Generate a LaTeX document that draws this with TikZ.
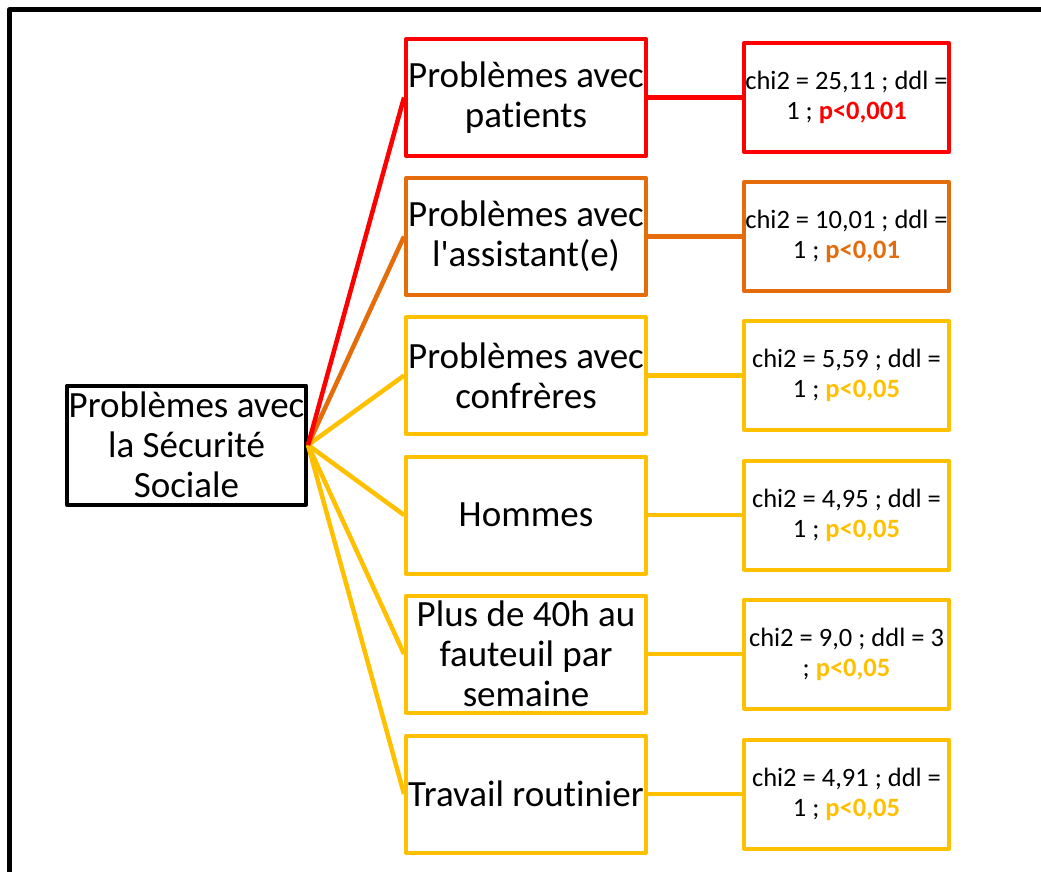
\documentclass[tikz,border=0pt]{standalone}
\usepackage{fontspec}
\setmainfont[Ligatures=NoCommon]{Carlito}
\definecolor{cred}{HTML}{FF0000}
\definecolor{corange}{HTML}{E46C0A}
\definecolor{cyellow}{HTML}{FFC000}
\begin{document}
\begin{tikzpicture}[x=1pt,y=-1pt,line join=round,
  midbox/.style={draw=#1,line width=4pt,fill=white,minimum width=240pt,minimum height=117pt,inner sep=0pt,align=center,font=\fontsize{37}{40}\selectfont},
  rootbox/.style={draw=black,line width=4pt,fill=white,minimum width=239pt,minimum height=119pt,inner sep=0pt,align=center,font=\fontsize{37}{40}\selectfont},
  statbox/.style={draw=#1,line width=4pt,fill=white,minimum width=205pt,minimum height=109pt,inner sep=0pt,align=center,font=\fontsize{26.5}{30}\selectfont},
  conn/.style={draw=#1,line width=4.5pt}]
\useasboundingbox (0,0) rectangle (1041,872);
\clip (0,0) rectangle (1041,872);
\draw[line width=5pt] (9.7,900) -- (9.7,9.7) -- (1060,9.7);
\node[rootbox] (root) at (186.5,445) {Problèmes avec\\la Sécurité\\Sociale};
\node[midbox=cred] (m1) at (526,97.5) {Problèmes avec\\patients};
\node[midbox=corange] (m2) at (526,236.5) {Problèmes avec\\l\textquotesingle assistant(e)};
\node[midbox=cyellow] (m3) at (526,375.5) {Problèmes avec\\confrères};
\node[midbox=cyellow] (m4) at (526,515) {Hommes};
\node[midbox=cyellow] (m5) at (526,654) {Plus de 40h au\\fauteuil par\\semaine};
\node[midbox=cyellow] (m6) at (526,794) {Travail routinier};
\node[statbox=cred] (r1) at (846.5,97.5) {chi2 = 25,11 ; ddl =\\1 ; \textcolor{cred}{\bfseries p<0,001}};
\node[statbox=corange] (r2) at (846.5,236.5) {chi2 = 10,01 ; ddl =\\1 ; \textcolor{corange}{\bfseries p<0,01}};
\node[statbox=cyellow] (r3) at (846.5,375.5) {chi2 = 5,59 ; ddl =\\1 ; \textcolor{cyellow}{\bfseries p<0,05}};
\node[statbox=cyellow] (r4) at (846.5,515) {chi2 = 4,95 ; ddl =\\1 ; \textcolor{cyellow}{\bfseries p<0,05}};
\node[statbox=cyellow] (r5) at (846.5,654) {chi2 = 9,0 ; ddl = 3\\; \textcolor{cyellow}{\bfseries p<0,05}};
\node[statbox=cyellow] (r6) at (846.5,794) {chi2 = 4,91 ; ddl =\\1 ; \textcolor{cyellow}{\bfseries p<0,05}};
\path[conn=cyellow] (root.east) -- (m6.west);
\path[conn=cyellow] (root.east) -- (m5.west);
\path[conn=cyellow] (root.east) -- (m4.west);
\path[conn=cyellow] (root.east) -- (m3.west);
\path[conn=corange] (root.east) -- (m2.west);
\path[conn=cred] (root.east) -- (m1.west);
\path[conn=cred] (m1.east) -- (r1.west);
\path[conn=corange] (m2.east) -- (r2.west);
\path[conn=cyellow] (m3.east) -- (r3.west);
\path[conn=cyellow] (m4.east) -- (r4.west);
\path[conn=cyellow] (m5.east) -- (r5.west);
\path[conn=cyellow] (m6.east) -- (r6.west);
\end{tikzpicture}
\end{document}
